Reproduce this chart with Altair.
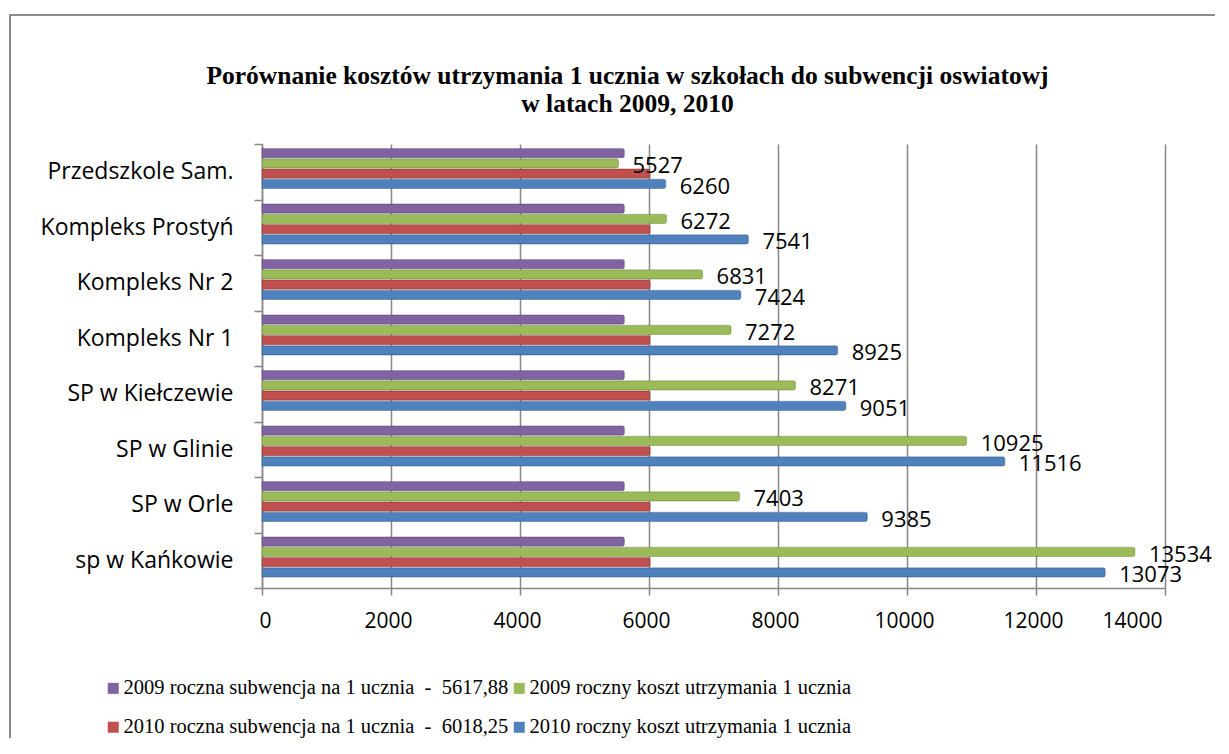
import altair as alt
import pandas as pd

categories = ["Przedszkole Sam.", "Kompleks Prostyń", "Kompleks Nr 2\u00a0",
              "Kompleks Nr 1\u00a0\u00a0", "SP w Kiełczewie", "SP w Glinie",
              "SP w Orle", "sp w Kańkowie"]
series = ["2009 roczna subwencja na 1 ucznia\u00a0 -\u00a0 5617,88",
          "2009 roczny koszt utrzymania 1 ucznia",
          "2010 roczna subwencja na 1 ucznia\u00a0 -\u00a0 6018,25",
          "2010 roczny koszt utrzymania 1 ucznia"]
subw_2009 = [5617.88, 5617.88, 5617.88, 5617.88, 5617.88, 5617.88, 5617.88, 5617.88]
koszt_2009 = [5527, 6272, 6831, 7272, 8271, 10925, 7403, 13534]
subw_2010 = [6018.25, 6018.25, 6018.25, 6018.25, 6018.25, 6018.25, 6018.25, 6018.25]
koszt_2010 = [6260, 7541, 7424, 8925, 9051, 11516, 9385, 13073]
colors = ["#8064A2", "#9BBB59", "#C0504D", "#4F81BD"]
x_ticks = [0, 2000, 4000, 6000, 8000, 10000, 12000, 14000]
title_lines = ["Porównanie kosztów utrzymania 1 ucznia w szkołach do subwencji oswiatowj",
               "w latach 2009, 2010"]

rows = []
for vals, s in zip([subw_2009, koszt_2009, subw_2010, koszt_2010], series):
    for c, v in zip(categories, vals):
        rows.append({"cat": c, "series": s, "value": v})
df = pd.DataFrame(rows)

y_enc = alt.Y("cat:N", sort=categories,
              scale=alt.Scale(domain=categories, paddingInner=0, paddingOuter=0),
              axis=alt.Axis(title=None, labelFont="Open Sans", labelFontSize=23, labelColor="black",
                            tickBand="extent", tickSize=8, tickColor="#868686", tickWidth=1.5,
                            domainColor="#868686", domainWidth=1.5, labelPadding=21,
                            grid=False, labelLimit=0))
yoff_enc = alt.YOffset("series:N", sort=series,
                       scale=alt.Scale(domain=series, range=[4.5, 44.5],
                                       paddingInner=0.1, paddingOuter=0))
x_enc = alt.X("value:Q", scale=alt.Scale(domain=[0, 14000], nice=False),
              axis=alt.Axis(title=None, values=x_ticks, format="d", labelFont="Open Sans",
                            labelFontSize=21, labelColor="black", tickSize=7,
                            tickColor="#868686", tickWidth=1.5, domainColor="#868686",
                            domainWidth=1.5, grid=True, gridColor="#868686",
                            gridWidth=1.5, labelPadding=15, labelOffset=-3))

bars = alt.Chart(df).mark_bar(strokeWidth=0.8, strokeOpacity=0.6, cornerRadiusEnd=2).encode(
    y=y_enc,
    yOffset=yoff_enc,
    x=x_enc,
    color=alt.Color("series:N", sort=series,
                    scale=alt.Scale(domain=series, range=colors),
                    legend=alt.Legend(title=None, orient="none", legendX=-159, legendY=534,
                                      columns=2, direction="horizontal",
                                      symbolType="square", symbolSize=121,
                                      symbolStrokeWidth=0, labelFont="Liberation Serif",
                                      labelFontSize=20.5, labelColor="black", labelLimit=0,
                                      columnPadding=0, rowPadding=18, labelOffset=0,
                                      padding=0)),
    stroke=alt.Color("series:N", sort=series,
                     scale=alt.Scale(domain=series,
                                     range=["#5c4776", "#71893f", "#8c3836", "#385d8a"]),
                     legend=None),
)

labels = alt.Chart(df).transform_filter(
    alt.FieldOneOfPredicate(field="series", oneOf=[series[1], series[3]])
).mark_text(align="left", baseline="middle", dx=14, dy=3, font="Open Sans",
            fontSize=22, color="black").encode(
    y=alt.Y("cat:N", sort=categories),
    yOffset=alt.YOffset("series:N", sort=series),
    x=alt.X("value:Q"),
    text=alt.Text("value:Q", format="d"),
)

frame = alt.Chart(alt.Data(values=[{}])).mark_rect(
    fill=None, stroke="#8c8c8c", strokeWidth=2
).encode(
    x=alt.value(-252), x2=alt.value(1100), y=alt.value(-129), y2=alt.value(800)
)

chart = alt.layer(frame, bars, labels).properties(
    width=903, height=444,
    title=alt.TitleParams(text=title_lines, font="Liberation Serif", fontSize=25.5,
                          fontWeight="bold", color="black", anchor="middle",
                          dx=-86, dy=133, offset=30, lineHeight=27.5),
    autosize=alt.AutoSizeParams(type="none"),
    padding={"left": 254, "top": 136, "right": 50, "bottom": 150},
).configure_view(stroke=None)

chart.save("out.html", embed_options={"renderer": "svg", "actions": False})
